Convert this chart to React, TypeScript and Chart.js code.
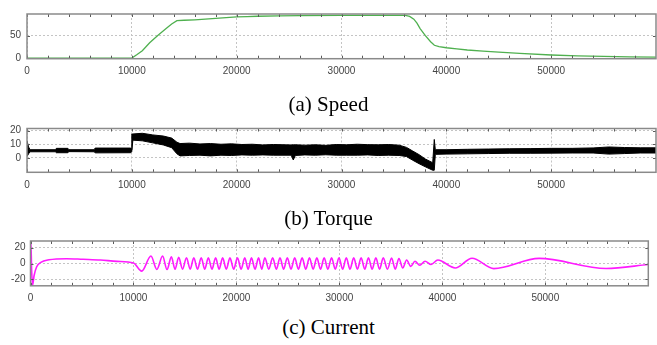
import React, { useEffect, useRef } from "react";
import { Chart, registerables } from "chart.js";

Chart.register(...registerables);

// ---------- data ----------
const xLabelTicks = [0, 10000, 20000, 30000, 40000, 50000];

const speedX = [
  0, 10000, 10500, 11000, 11700, 12500, 13300, 13800,
  14300, 15000, 16000, 17000, 18000, 19000, 20000, 21000,
  22000, 24000, 26000, 30000, 34000, 36100, 36500, 36900,
  37200, 37500, 38000, 38500, 38860, 39300, 40000, 41000,
  42000, 43500, 45000, 47000, 50000, 52500, 55000, 57500,
  60000,
];
const speedY = [
  0, 0, 8, 16.5, 34, 51, 66.5, 76,
  83.5, 84.5, 85.5, 87, 88.7, 90.5, 92, 92.8,
  93.5, 94.5, 95, 95.3, 95.6, 95.5, 93, 87,
  78, 66, 50, 36.5, 28.5, 25.5, 23, 20.3,
  18, 15.5, 13.3, 10.5, 6.8, 5, 3.8, 2.6,
  1.8,
];
const speedYTicks = [0, 50];

const torqueX = [
  0, 150, 300, 2700, 2800, 3900, 4000, 6400,
  6500, 9900, 9990, 10000, 10100, 11000, 12000, 13000,
  13800, 14300, 14600, 15500, 16500, 17500, 18500, 19500,
  20500, 21500, 22500, 23500, 25200, 25400, 25600, 26500,
  27500, 28500, 29500, 30500, 31500, 32500, 33500, 34500,
  35500, 36200, 36800, 37400, 38000, 38700, 38850, 38950,
  40000, 42000, 44000, 46000, 48000, 50000, 52000, 54000,
  55500, 57000, 58500, 60000,
];
const torqueHigh = [
  12.5, 8, 6, 6, 7, 7, 6, 6,
  7.2, 7.2, 6, 17.5, 17.5, 18, 16.8, 16,
  14.5, 11.5, 10.5, 10.8, 10.2, 10.5, 10, 10.3,
  9.8, 10, 9.5, 9.8, 9.5, 9.6, 9.6, 9.3,
  9.6, 9.2, 9.8, 9.6, 10, 9.7, 9.6, 9.8,
  9.3, 7.7, 5, 2.4, -0.8, -3.5, 13.5, 6,
  6, 6.3, 6.5, 6.7, 6.8, 7, 7, 7.3,
  8, 7.6, 7.4, 7.4,
];
const torqueLow = [
  1, 3, 4.5, 4.5, 3.8, 3.8, 4.6, 4.5,
  3.7, 3.8, 4.6, 4.6, 13, 12.5, 11, 9.5,
  7.5, 3, 1.5, 1.8, 2, 1.5, 2, 1.8,
  2.2, 2, 2.2, 2, 2, -1.5, 1.8, 2.2,
  2, 2.3, 2, 2, 2, 2.2, 1.8, 2,
  1.8, 1, -1.7, -4.2, -6.5, -9, -9, 2.6,
  2.8, 3, 3.2, 3.4, 3.4, 3.5, 3.6, 3.6,
  2.8, 3.2, 3.6, 3.6,
];
const torqueYTicks = [0, 10, 20];

const currentX = [
  0, 40, 110, 200, 350, 600, 1000, 1800,
  3500, 5100, 6800, 8400, 10000, 10800,
  11700, 12270, 12830, 13260, 13680, 14040, 14390, 14770,
  15150, 15505, 15860, 16220, 16580, 16925, 17270, 17625,
  17980, 18320, 18660, 19015, 19370, 19735, 20100, 20455,
  20810, 21135, 21460, 21805, 22150, 22455, 22760, 23140,
  23520, 23875, 24230, 24585, 24940, 25300, 25660, 26020,
  26380, 26735, 27090, 27450, 27810, 28165, 28520, 28880,
  29240, 29600, 29960, 30315, 30670, 31030, 31390, 31750,
  32110, 32465, 32820, 33180, 33540, 33900, 34260, 34665,
  35070, 35425, 35780,
  36150, 36530, 36930, 37340, 37800, 38320, 38900, 39560,
  41250, 42880, 45000, 49400, 55900, 60000,
];
const currentY = [
  -3, 26, -8, -27, -15, -4, 1.5, 4.8,
  6.2, 5.4, 4.5, 2.8, 0.8, -9.5,
  9.5, -7.5, 9.5, -7.5, 8.5, -7.2, 7.8, -7,
  7.4, -7, 7.2, -7, 7.3, -7, 7.2, -7,
  7.3, -7, 7.2, -7, 7.2, -7, 7.3, -7,
  7.2, -7, 7.2, -7, 7.3, -7, 7.2, -7,
  7.2, -7, 7.3, -7, 7.2, -7, 7.2, -7,
  7.3, -7, 7.2, -7, 7.2, -7, 7.3, -7,
  7.2, -7, 7.2, -7, 7.3, -7, 7.2, -7,
  7.2, -7, 7.3, -7, 7.2, -7, 7.2, -7,
  7, -7, 6.5,
  -5.5, 4.5, -3.5, 3, -2, 3, -1.2, 4.5,
  -5.5, 6.8, -6.3, 6.6, -6.2, -1.2,
];
const currentYTicks = [-20, 0, 20];

const captions = ["(a) Speed", "(b) Torque", "(c) Current"];

// ---------- helpers ----------
const pts = (xs: number[], ys: number[]) => xs.map((x, i) => ({ x, y: ys[i] }));

const tickFont = {
  family: "'Liberation Sans Narrow', 'Liberation Sans', Arial, sans-serif",
  size: 10,
};

const framePlugin = {
  id: "frame",
  afterDatasetsDraw(chart: any, _args: any, opts: any) {
    const { ctx, chartArea: a, scales } = chart;
    const xs = scales.x;
    const ys = scales.y;
    ctx.save();
    ctx.strokeStyle = "#5a5a5a";
    ctx.lineWidth = 1;
    ctx.beginPath();
    for (let v = xs.min; v < xs.max; v += opts.xMinor) {
      const p = Math.round(xs.getPixelForValue(v)) + 0.5;
      ctx.moveTo(p, a.top);
      ctx.lineTo(p, a.top + 3);
      ctx.moveTo(p, a.bottom);
      ctx.lineTo(p, a.bottom - 3);
    }
    (opts.yTicks as number[]).forEach((v) => {
      const p = Math.round(ys.getPixelForValue(v)) + 0.5;
      ctx.moveTo(a.left, p);
      ctx.lineTo(a.left + 3, p);
      ctx.moveTo(a.right, p);
      ctx.lineTo(a.right - 3, p);
    });
    ctx.stroke();
    ctx.strokeStyle = "#8a8a8a";
    ctx.lineWidth = 1.5;
    ctx.strokeRect(a.left, a.top, a.right - a.left, a.bottom - a.top);
    ctx.restore();
  },
};

type Panel = {
  top: number;
  height: number;
  padTop: number;
  padRight: number;
  yWidth: number;
  yPad: number;
  xHeight: number;
  xPad: number;
  yMin: number;
  yMax: number;
  yTicks: number[];
  datasets: any[];
};

const panels: Panel[] = [
  {
    top: 0,
    height: 80,
    padTop: 14,
    padRight: 1,
    yWidth: 27,
    yPad: 6,
    xHeight: 21.3,
    xPad: 7,
    yMin: -1.5,
    yMax: 98.5,
    yTicks: speedYTicks,
    datasets: [
      {
        data: pts(speedX, speedY),
        borderColor: "#4fb04f",
        borderWidth: 1.3,
        pointRadius: 0,
        tension: 0,
        fill: false,
      },
    ],
  },
  {
    top: 113,
    height: 80,
    padTop: 15.5,
    padRight: 1,
    yWidth: 27,
    yPad: 6,
    xHeight: 20.7,
    xPad: 6.5,
    yMin: -10.5,
    yMax: 21.5,
    yTicks: torqueYTicks,
    datasets: [
      {
        data: pts(torqueX, torqueLow),
        borderColor: "#000",
        borderWidth: 1,
        pointRadius: 0,
        tension: 0,
        fill: false,
      },
      {
        data: pts(torqueX, torqueHigh),
        borderColor: "#000",
        backgroundColor: "#000",
        borderWidth: 1,
        pointRadius: 0,
        tension: 0,
        fill: "-1",
      },
    ],
  },
  {
    top: 226,
    height: 82,
    padTop: 15,
    padRight: 8.7,
    yWidth: 30.5,
    yPad: 5,
    xHeight: 22.2,
    xPad: 6,
    yMin: -28,
    yMax: 28.5,
    yTicks: currentYTicks,
    datasets: [
      {
        data: pts(currentX, currentY),
        borderColor: "#ff1aff",
        borderWidth: 1.6,
        pointRadius: 0,
        cubicInterpolationMode: "monotone",
        fill: false,
      },
    ],
  },
];

function PanelChart({ p }: { p: Panel }) {
  const ref = useRef<HTMLCanvasElement | null>(null);
  useEffect(() => {
    if (!ref.current) return;
    const chart = new Chart(ref.current, {
      type: "line",
      data: { datasets: p.datasets },
      plugins: [framePlugin as any],
      options: {
        animation: false,
        responsive: false,
        maintainAspectRatio: false,
        events: [],
        layout: { padding: { top: p.padTop, right: p.padRight, left: 0, bottom: 0 } },
        plugins: {
          legend: { display: false },
          tooltip: { enabled: false },
          title: { display: false },
          frame: { xMinor: 2000, yTicks: p.yTicks },
        } as any,
        scales: {
          x: {
            type: "linear",
            min: 0,
            max: 60000,
            afterBuildTicks: (s: any) => {
              s.ticks = xLabelTicks.map((v) => ({ value: v }));
            },
            afterFit: (s: any) => {
              s.height = p.xHeight;
            },
            ticks: {
              autoSkip: false,
              maxRotation: 0,
              minRotation: 0,
              padding: p.xPad,
              color: "#444",
              font: tickFont,
              callback: (v: any) => String(v),
            },
            grid: { color: "#c4c4c4", lineWidth: 1, drawTicks: false },
            border: { display: false, dash: [2, 2] },
          },
          y: {
            type: "linear",
            min: p.yMin,
            max: p.yMax,
            afterBuildTicks: (s: any) => {
              s.ticks = p.yTicks.map((v) => ({ value: v }));
            },
            afterFit: (s: any) => {
              s.width = p.yWidth;
            },
            ticks: {
              autoSkip: false,
              padding: p.yPad,
              color: "#444",
              font: tickFont,
              callback: (v: any) => String(v),
            },
            grid: { color: "#c4c4c4", lineWidth: 1, drawTicks: false },
            border: { display: false, dash: [2, 2] },
          },
        },
      } as any,
    });
    return () => chart.destroy();
  }, [p]);
  return (
    <canvas
      ref={ref}
      width={657}
      height={p.height}
      style={{ position: "absolute", left: 0, top: p.top, width: 657, height: p.height }}
    />
  );
}

const captionTops = [94, 208, 317];

export default function App() {
  return (
    <div
      style={{
        position: "absolute",
        left: 0,
        top: 0,
        width: 657,
        height: 345,
        background: "#fff",
        overflow: "hidden",
      }}
    >
      {panels.map((p, i) => (
        <PanelChart key={i} p={p} />
      ))}
      {captions.map((c, i) => (
        <div
          key={c}
          style={{
            position: "absolute",
            left: 0,
            width: 657,
            top: captionTops[i],
            textAlign: "center",
            fontFamily: "'Liberation Serif', 'Times New Roman', serif",
            fontSize: 21,
            lineHeight: 1,
            color: "#000",
            whiteSpace: "nowrap",
          }}
        >
          {c}
        </div>
      ))}
    </div>
  );
}
